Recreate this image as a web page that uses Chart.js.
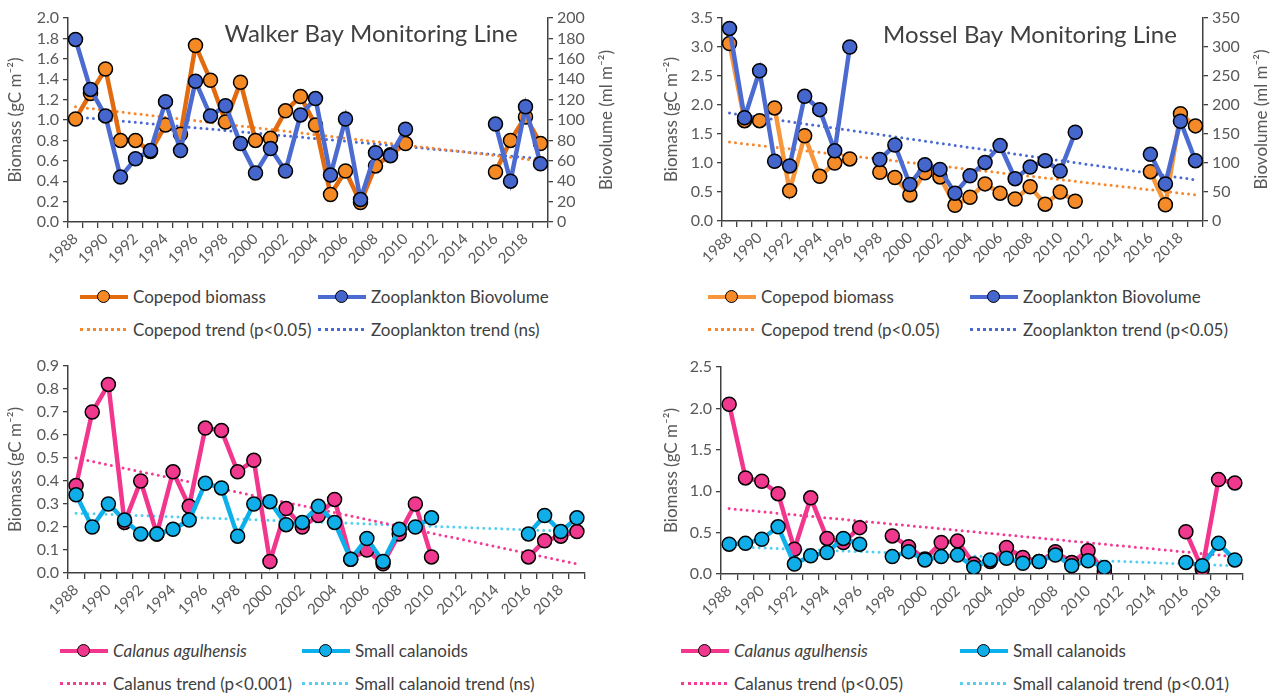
<!DOCTYPE html>
<html>
<head>
<meta charset="utf-8">
<script src="https://cdn.jsdelivr.net/npm/chart.js@4.4.1/dist/chart.umd.min.js"></script>
<style>
  body { margin: 0; background: #fff; width: 1277px; height: 696px; position: relative; overflow: hidden;
         font-family: Lato, "Open Sans", sans-serif; }
  .panel { position: absolute; }
  .legend { position: absolute; display: grid; font-size: 17px; color: #404040; }
  .item { display: flex; align-items: center; height: 33px; white-space: nowrap; }
  .sample { position: relative; width: 48px; height: 14px; margin-right: 5px; flex: none; }
  .sample .ln { position: absolute; left: 0; right: 0; top: 5px; height: 4px; }
  .sample .dot { position: absolute; left: 17px; top: 0; width: 11px; height: 11px; border: 1.5px solid #000; border-radius: 50%; }
  .sample .dl { position: absolute; left: 0; right: 2px; top: 5px; border-top: 3px dotted; }
  .it { font-style: italic; }
</style>
</head>
<body>

<div class="panel" style="left:0;top:0"><canvas id="c1" width="620" height="270"></canvas></div>
<div class="panel" style="left:640px;top:0"><canvas id="c2" width="637" height="270"></canvas></div>
<div class="panel" style="left:0;top:348px"><canvas id="c3" width="620" height="270"></canvas></div>
<div class="panel" style="left:640px;top:348px"><canvas id="c4" width="637" height="270"></canvas></div>

<div class="legend" id="l1" style="left:80px;top:280px;grid-template-columns:238px 260px"></div>
<div class="legend" id="l2" style="left:708px;top:280px;grid-template-columns:262px 270px"></div>
<div class="legend" id="l3" style="left:60px;top:634px;grid-template-columns:242px 280px"></div>
<div class="legend" id="l4" style="left:681px;top:634px;grid-template-columns:279px 280px"></div>

<script>
// ---- data ----
const years = ['1988','1989','1990','1991','1992','1993','1994','1995','1996','1997','1998','1999',
  '2000','2001','2002','2003','2004','2005','2006','2007','2008','2009','2010','2011','2012','2013',
  '2014','2015','2016','2017','2018','2019'];

// Walker Bay (gC m-2 / ml m-2)
const walkerCopepod = [1.01,1.26,1.50,0.80,0.80,0.69,0.95,0.86,1.73,1.39,0.98,1.37,0.80,0.82,1.09,1.23,
  0.95,0.27,0.50,0.19,0.55,0.66,0.77,null,null,null,null,null,0.49,0.80,1.03,0.77];
const walkerZoo = [179,130,104,44,62,70,118,70,138,104,114,77,48,72,50,105,
  121,46,101,22,68,65,91,null,null,null,null,null,96,40,113,57];
const walkerCopepodTrend = [1.13,null,null,null,null,null,null,null,null,null,null,null,null,null,null,null,
  null,null,null,null,null,null,null,null,null,null,null,null,null,null,null,0.60];
const walkerZooTrend = [103,null,null,null,null,null,null,null,null,null,null,null,null,null,null,null,
  null,null,null,null,null,null,null,null,null,null,null,null,null,null,null,62];

// Mossel Bay
const mosselCopepod = [3.06,1.73,1.73,1.95,0.52,1.47,0.77,1.00,1.07,null,0.84,0.75,0.45,0.83,0.76,0.27,
  0.41,0.64,0.48,0.38,0.59,0.29,0.50,0.34,null,null,null,null,0.85,0.28,1.85,1.64];
const mosselZoo = [332,178,259,103,95,215,192,121,300,null,106,131,63,97,89,48,
  78,101,130,73,93,104,86,153,null,null,null,null,115,64,172,104];
const mosselCopepodTrend = [1.36,null,null,null,null,null,null,null,null,null,null,null,null,null,null,null,
  null,null,null,null,null,null,null,null,null,null,null,null,null,null,null,0.45];
const mosselZooTrend = [186,null,null,null,null,null,null,null,null,null,null,null,null,null,null,null,
  null,null,null,null,null,null,null,null,null,null,null,null,null,null,null,71];

// Calanus / small calanoids
const walkerCalanus = [0.38,0.70,0.82,0.22,0.40,0.17,0.44,0.29,0.63,0.62,0.44,0.49,0.05,0.28,0.20,0.25,
  0.32,0.06,0.10,0.04,0.17,0.30,0.07,null,null,null,null,null,0.07,0.14,0.16,0.18];
const walkerSmall = [0.34,0.20,0.30,0.23,0.17,0.17,0.19,0.23,0.39,0.37,0.16,0.30,0.31,0.21,0.22,0.29,
  0.22,0.06,0.15,0.05,0.19,0.20,0.24,null,null,null,null,null,0.17,0.25,0.18,0.24];
const walkerCalanusTrend = [0.50,null,null,null,null,null,null,null,null,null,null,null,null,null,null,null,
  null,null,null,null,null,null,null,null,null,null,null,null,null,null,null,0.04];
const walkerSmallTrend = [0.26,null,null,null,null,null,null,null,null,null,null,null,null,null,null,null,
  null,null,null,null,null,null,null,null,null,null,null,null,null,null,null,0.18];

const mosselCalanus = [2.05,1.16,1.12,0.97,0.30,0.92,0.43,0.38,0.56,null,0.46,0.33,0.18,0.38,0.40,0.12,
  0.15,0.32,0.20,0.15,0.27,0.14,0.28,0.03,null,null,null,null,0.51,0.06,1.14,1.10];
const mosselSmall = [0.36,0.37,0.42,0.57,0.12,0.22,0.26,0.43,0.36,null,0.21,0.27,0.17,0.21,0.23,0.08,
  0.17,0.19,0.13,0.15,0.23,0.10,0.16,0.08,null,null,null,null,0.14,0.10,0.37,0.17];
const mosselCalanusTrend = [0.79,null,null,null,null,null,null,null,null,null,null,null,null,null,null,null,
  null,null,null,null,null,null,null,null,null,null,null,null,null,null,null,0.21];
const mosselSmallTrend = [0.33,null,null,null,null,null,null,null,null,null,null,null,null,null,null,null,
  null,null,null,null,null,null,null,null,null,null,null,null,null,null,null,0.10];

// ---- styling helpers ----
const axisColor = '#404040';
const tickColor = '#595959';

function series(label, data, line, fill, axis, order) {
  return { label, data, borderColor: line, backgroundColor: fill, pointBackgroundColor: fill,
    pointBorderColor: '#000', pointBorderWidth: 1.5, pointRadius: 7, borderWidth: 4.5,
    spanGaps: false, tension: 0, yAxisID: axis, order };
}
function trend(label, data, color, axis) {
  return { label, data, borderColor: color, borderWidth: 3, borderDash: [0, 6], borderCapStyle: 'round',
    pointRadius: 0, spanGaps: true, yAxisID: axis, order: 3, isTrend: true };
}

function yAxis(min, max, step, dec, width, title, titlePad, pos) {
  return {
    position: pos, min, max,
    ticks: { stepSize: step, autoSkip: false, color: tickColor, font: { size: 16 }, padding: 4,
      callback: v => v.toFixed(dec) },
    grid: { drawOnChartArea: false, tickLength: 5, color: axisColor, lineWidth: 1.3 },
    border: { color: axisColor, width: 1.5 },
    title: { display: !!title, text: title, color: tickColor, font: { size: 17 }, padding: { top: titlePad } },
    afterFit(s) { s.width = width; }
  };
}
function xAxis(height) {
  return {
    type: 'category', offset: true,
    grid: { offset: true, drawOnChartArea: false, tickLength: 6, color: axisColor, lineWidth: 1.3 },
    border: { color: axisColor, width: 1.5 },
    ticks: { autoSkip: false, minRotation: 45, maxRotation: 45, color: tickColor, font: { size: 15 }, padding: 2,
      callback(v, i) { return i % 2 === 0 ? this.getLabelForValue(v) : ''; } },
    afterFit(s) { s.height = height; }
  };
}

// draws panel title inside plot and right-axis title reading upwards
const panelText = {
  id: 'panelText',
  afterDraw(chart, args, opts) {
    const ctx = chart.ctx;
    ctx.save();
    if (opts.title) {
      ctx.font = '24px Lato, "Open Sans", sans-serif';
      ctx.fillStyle = axisColor;
      ctx.textAlign = 'center';
      ctx.textBaseline = 'middle';
      ctx.fillText(opts.title, opts.tx, opts.ty);
    }
    if (opts.right) {
      const s = chart.scales.y1;
      const ca = chart.chartArea;
      ctx.translate(s.right - opts.rOff, (ca.top + ca.bottom) / 2);
      ctx.rotate(-Math.PI / 2);
      ctx.font = '17px Lato, "Open Sans", sans-serif';
      ctx.fillStyle = tickColor;
      ctx.textAlign = 'center';
      ctx.textBaseline = 'middle';
      ctx.fillText(opts.right, 0, 0);
    }
    ctx.restore();
  }
};
Chart.register(panelText);
Chart.defaults.font.family = 'Lato, "Open Sans", sans-serif';
Chart.defaults.animation = false;

function makeChart(id, datasets, scales, padding, text) {
  return new Chart(document.getElementById(id), {
    type: 'line',
    data: { labels: years, datasets },
    options: {
      responsive: false,
      layout: { padding },
      scales,
      plugins: { legend: { display: false }, tooltip: { enabled: false }, panelText: text }
    }
  });
}

const bioTitle = 'Biomass (gC m\u207B\u00B2)';
const volTitle = 'Biovolume (ml m\u207B\u00B2)';

const c1 = makeChart('c1', [
  series('Copepod biomass', walkerCopepod, '#E26B10', '#F58A24', 'y', 1),
  series('Zooplankton Biovolume', walkerZoo, '#4B6BD0', '#4567CD', 'y1', 0),
  trend('Copepod trend (p<0.05)', walkerCopepodTrend, '#F8862A', 'y'),
  trend('Zooplankton trend (ns)', walkerZooTrend, '#4A69D4', 'y1')
], {
  x: xAxis(48),
  y: yAxis(0, 2, 0.2, 1, 68, bioTitle, 5, 'left'),
  y1: yAxis(0, 200, 20, 0, 72, '', 0, 'right')
}, { top: 18 }, { title: 'Walker Bay Monitoring Line', tx: 371, ty: 34, right: volTitle, rOff: 13 });

const c2 = makeChart('c2', [
  series('Copepod biomass', mosselCopepod, '#F7963A', '#F58A28', 'y', 1),
  series('Zooplankton Biovolume', mosselZoo, '#4B6BD0', '#4567CD', 'y1', 0),
  trend('Copepod trend (p<0.05)', mosselCopepodTrend, '#F8862A', 'y'),
  trend('Zooplankton trend (p<0.05)', mosselZooTrend, '#4A69D4', 'y1')
], {
  x: xAxis(49),
  y: yAxis(0, 3.5, 0.5, 1, 82, bioTitle, 21, 'left'),
  y1: yAxis(0, 350, 50, 0, 74, '', 0, 'right')
}, { top: 18 }, { title: 'Mossel Bay Monitoring Line', tx: 390, ty: 35, right: volTitle, rOff: 15 });

const c3 = makeChart('c3', [
  series('Calanus agulhensis', walkerCalanus, '#F2368E', '#F0388F', 'y', 1),
  series('Small calanoids', walkerSmall, '#0CB0EA', '#10AEE8', 'y', 0),
  trend('Calanus trend (p<0.001)', walkerCalanusTrend, '#F43A93', 'y'),
  trend('Small calanoid trend (ns)', walkerSmallTrend, '#55CFF0', 'y')
], {
  x: xAxis(45),
  y: yAxis(0, 0.9, 0.1, 1, 68, bioTitle, 5, 'left')
}, { top: 18, right: 35 }, {});

const c4 = makeChart('c4', [
  series('Calanus agulhensis', mosselCalanus, '#F2368E', '#F0388F', 'y', 1),
  series('Small calanoids', mosselSmall, '#0CB0EA', '#10AEE8', 'y', 0),
  trend('Calanus trend (p<0.05)', mosselCalanusTrend, '#F43A93', 'y'),
  trend('Small calanoid trend (p<0.01)', mosselSmallTrend, '#55CFF0', 'y')
], {
  x: xAxis(44),
  y: yAxis(0, 2.5, 0.5, 1, 81, bioTitle, 21, 'left')
}, { top: 19, right: 34 }, {});

// html legend built from the datasets
function buildLegend(elId, chart, italicFirst) {
  const el = document.getElementById(elId);
  chart.data.datasets.forEach((ds, i) => {
    const item = document.createElement('div');
    item.className = 'item';
    const sample = document.createElement('span');
    sample.className = 'sample';
    if (ds.isTrend) {
      sample.innerHTML = '<span class="dl" style="border-top-color:' + ds.borderColor + '"></span>';
    } else {
      sample.innerHTML = '<span class="ln" style="background:' + ds.borderColor + '"></span>' +
        '<span class="dot" style="background:' + ds.pointBackgroundColor + '"></span>';
    }
    const txt = document.createElement('span');
    txt.textContent = ds.label;
    if (italicFirst && i === 0) txt.className = 'it';
    item.appendChild(sample);
    item.appendChild(txt);
    el.appendChild(item);
  });
}
buildLegend('l1', c1, false);
buildLegend('l2', c2, false);
buildLegend('l3', c3, true);
buildLegend('l4', c4, true);
</script>
</body>
</html>
